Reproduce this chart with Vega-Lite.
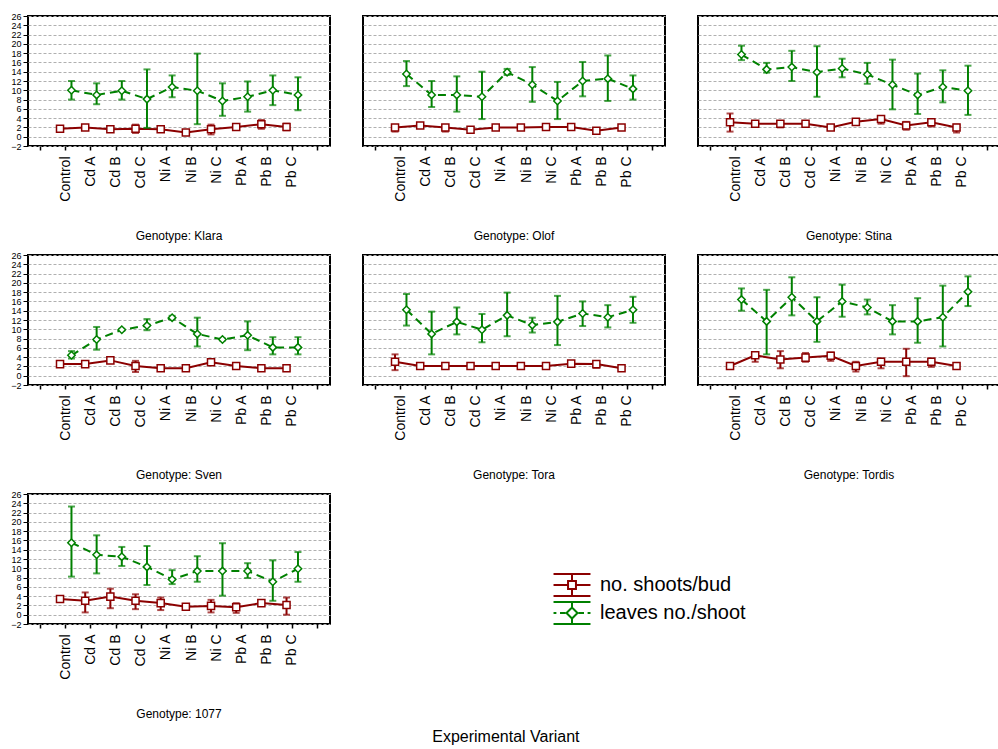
{
  "$schema": "https://vega.github.io/schema/vega-lite/v6.json",
  "padding": {"left": 10, "top": 12, "right": 0, "bottom": 0},
  "title": {"text": "Experimental Variant", "orient": "bottom", "anchor": "middle", "fontSize": 16, "fontWeight": "normal", "font": "Liberation Sans", "color": "#000", "offset": 8},
  "data": {"values": [
    {"g":"Klara","v":"Control","s":"S","m":1.7,"lo":1.5,"hi":1.9},
    {"g":"Klara","v":"Cd A","s":"S","m":2.0,"lo":1.6,"hi":2.2},
    {"g":"Klara","v":"Cd B","s":"S","m":1.6,"lo":1.2,"hi":1.9},
    {"g":"Klara","v":"Cd C","s":"S","m":1.7,"lo":0.8,"hi":2.6},
    {"g":"Klara","v":"Ni A","s":"S","m":1.6,"lo":1.2,"hi":1.8},
    {"g":"Klara","v":"Ni B","s":"S","m":0.9,"lo":0.7,"hi":1.1},
    {"g":"Klara","v":"Ni C","s":"S","m":1.6,"lo":0.5,"hi":2.6},
    {"g":"Klara","v":"Pb A","s":"S","m":2.1,"lo":1.8,"hi":2.3},
    {"g":"Klara","v":"Pb B","s":"S","m":2.7,"lo":1.7,"hi":3.6},
    {"g":"Klara","v":"Pb C","s":"S","m":2.1,"lo":1.4,"hi":2.8},
    {"g":"Klara","v":"Control","s":"L","m":10.0,"lo":8.0,"hi":12.0},
    {"g":"Klara","v":"Cd A","s":"L","m":9.0,"lo":7.0,"hi":11.5},
    {"g":"Klara","v":"Cd B","s":"L","m":9.9,"lo":8.0,"hi":12.0},
    {"g":"Klara","v":"Cd C","s":"L","m":8.1,"lo":1.9,"hi":14.5},
    {"g":"Klara","v":"Ni A","s":"L","m":10.7,"lo":8.5,"hi":13.2},
    {"g":"Klara","v":"Ni B","s":"L","m":9.9,"lo":2.7,"hi":17.9},
    {"g":"Klara","v":"Ni C","s":"L","m":7.7,"lo":4.5,"hi":11.5},
    {"g":"Klara","v":"Pb A","s":"L","m":8.6,"lo":5.4,"hi":11.9},
    {"g":"Klara","v":"Pb B","s":"L","m":10.0,"lo":6.8,"hi":13.2},
    {"g":"Klara","v":"Pb C","s":"L","m":9.0,"lo":5.7,"hi":12.8},
    {"g":"Olof","v":"Control","s":"S","m":2.0,"lo":1.1,"hi":2.3},
    {"g":"Olof","v":"Cd A","s":"S","m":2.4,"lo":2.0,"hi":2.7},
    {"g":"Olof","v":"Cd B","s":"S","m":2.0,"lo":1.1,"hi":2.4},
    {"g":"Olof","v":"Cd C","s":"S","m":1.5,"lo":1.0,"hi":1.8},
    {"g":"Olof","v":"Ni A","s":"S","m":2.0,"lo":1.8,"hi":2.2},
    {"g":"Olof","v":"Ni B","s":"S","m":2.0,"lo":1.8,"hi":2.2},
    {"g":"Olof","v":"Ni C","s":"S","m":2.1,"lo":1.9,"hi":2.3},
    {"g":"Olof","v":"Pb A","s":"S","m":2.1,"lo":1.8,"hi":2.3},
    {"g":"Olof","v":"Pb B","s":"S","m":1.3,"lo":1.0,"hi":1.5},
    {"g":"Olof","v":"Pb C","s":"S","m":2.0,"lo":1.7,"hi":2.2},
    {"g":"Olof","v":"Control","s":"L","m":13.5,"lo":10.9,"hi":16.3},
    {"g":"Olof","v":"Cd A","s":"L","m":9.0,"lo":6.4,"hi":12.0},
    {"g":"Olof","v":"Cd B","s":"L","m":9.0,"lo":5.4,"hi":13.0},
    {"g":"Olof","v":"Cd C","s":"L","m":8.6,"lo":3.8,"hi":14.0},
    {"g":"Olof","v":"Ni A","s":"L","m":13.9,"lo":13.3,"hi":14.6},
    {"g":"Olof","v":"Ni B","s":"L","m":11.2,"lo":7.5,"hi":15.0},
    {"g":"Olof","v":"Ni C","s":"L","m":7.7,"lo":3.8,"hi":11.8},
    {"g":"Olof","v":"Pb A","s":"L","m":12.0,"lo":8.7,"hi":16.1},
    {"g":"Olof","v":"Pb B","s":"L","m":12.5,"lo":7.7,"hi":17.5},
    {"g":"Olof","v":"Pb C","s":"L","m":10.3,"lo":8.0,"hi":13.2},
    {"g":"Stina","v":"Control","s":"S","m":3.1,"lo":1.1,"hi":5.0},
    {"g":"Stina","v":"Cd A","s":"S","m":2.8,"lo":2.5,"hi":3.1},
    {"g":"Stina","v":"Cd B","s":"S","m":2.8,"lo":2.0,"hi":3.2},
    {"g":"Stina","v":"Cd C","s":"S","m":2.8,"lo":2.2,"hi":3.2},
    {"g":"Stina","v":"Ni A","s":"S","m":2.0,"lo":1.5,"hi":2.5},
    {"g":"Stina","v":"Ni B","s":"S","m":3.2,"lo":2.6,"hi":3.6},
    {"g":"Stina","v":"Ni C","s":"S","m":3.8,"lo":2.8,"hi":4.3},
    {"g":"Stina","v":"Pb A","s":"S","m":2.4,"lo":1.5,"hi":3.2},
    {"g":"Stina","v":"Pb B","s":"S","m":3.1,"lo":2.2,"hi":3.8},
    {"g":"Stina","v":"Pb C","s":"S","m":2.0,"lo":0.9,"hi":2.6},
    {"g":"Stina","v":"Control","s":"L","m":17.7,"lo":16.5,"hi":19.6},
    {"g":"Stina","v":"Cd A","s":"L","m":14.5,"lo":13.8,"hi":15.9},
    {"g":"Stina","v":"Cd B","s":"L","m":15.0,"lo":12.0,"hi":18.5},
    {"g":"Stina","v":"Cd C","s":"L","m":13.9,"lo":8.6,"hi":19.5},
    {"g":"Stina","v":"Ni A","s":"L","m":14.7,"lo":12.8,"hi":16.8},
    {"g":"Stina","v":"Ni B","s":"L","m":13.4,"lo":11.4,"hi":15.9},
    {"g":"Stina","v":"Ni C","s":"L","m":11.2,"lo":5.9,"hi":16.6},
    {"g":"Stina","v":"Pb A","s":"L","m":9.0,"lo":4.9,"hi":13.6},
    {"g":"Stina","v":"Pb B","s":"L","m":10.7,"lo":7.4,"hi":14.3},
    {"g":"Stina","v":"Pb C","s":"L","m":9.9,"lo":4.7,"hi":15.3},
    {"g":"Sven","v":"Control","s":"S","m":2.5,"lo":2.1,"hi":2.8},
    {"g":"Sven","v":"Cd A","s":"S","m":2.5,"lo":2.0,"hi":2.9},
    {"g":"Sven","v":"Cd B","s":"S","m":3.3,"lo":3.1,"hi":3.5},
    {"g":"Sven","v":"Cd C","s":"S","m":2.1,"lo":0.8,"hi":3.2},
    {"g":"Sven","v":"Ni A","s":"S","m":1.6,"lo":1.1,"hi":2.0},
    {"g":"Sven","v":"Ni B","s":"S","m":1.6,"lo":1.2,"hi":2.0},
    {"g":"Sven","v":"Ni C","s":"S","m":2.9,"lo":2.3,"hi":3.3},
    {"g":"Sven","v":"Pb A","s":"S","m":2.1,"lo":1.9,"hi":2.3},
    {"g":"Sven","v":"Pb B","s":"S","m":1.6,"lo":1.1,"hi":2.0},
    {"g":"Sven","v":"Pb C","s":"S","m":1.6,"lo":1.0,"hi":1.9},
    {"g":"Sven","v":"Control","s":"L","m":4.4,"lo":3.7,"hi":5.3},
    {"g":"Sven","v":"Cd A","s":"L","m":7.8,"lo":5.6,"hi":10.5},
    {"g":"Sven","v":"Cd B","s":"L","m":9.9,"lo":9.7,"hi":10.1},
    {"g":"Sven","v":"Cd C","s":"L","m":10.8,"lo":9.8,"hi":12.2},
    {"g":"Sven","v":"Ni A","s":"L","m":12.5,"lo":12.1,"hi":12.9},
    {"g":"Sven","v":"Ni B","s":"L","m":9.0,"lo":6.3,"hi":12.5},
    {"g":"Sven","v":"Ni C","s":"L","m":7.8,"lo":7.6,"hi":8.0},
    {"g":"Sven","v":"Pb A","s":"L","m":8.7,"lo":5.5,"hi":11.7},
    {"g":"Sven","v":"Pb B","s":"L","m":6.1,"lo":4.6,"hi":8.3},
    {"g":"Sven","v":"Pb C","s":"L","m":6.1,"lo":4.6,"hi":8.3},
    {"g":"Tora","v":"Control","s":"S","m":3.0,"lo":1.2,"hi":4.6},
    {"g":"Tora","v":"Cd A","s":"S","m":2.1,"lo":1.8,"hi":2.3},
    {"g":"Tora","v":"Cd B","s":"S","m":2.1,"lo":1.8,"hi":2.3},
    {"g":"Tora","v":"Cd C","s":"S","m":2.1,"lo":1.7,"hi":2.6},
    {"g":"Tora","v":"Ni A","s":"S","m":2.1,"lo":1.9,"hi":2.3},
    {"g":"Tora","v":"Ni B","s":"S","m":2.1,"lo":1.9,"hi":2.3},
    {"g":"Tora","v":"Ni C","s":"S","m":2.1,"lo":1.8,"hi":2.5},
    {"g":"Tora","v":"Pb A","s":"S","m":2.6,"lo":1.9,"hi":3.0},
    {"g":"Tora","v":"Pb B","s":"S","m":2.5,"lo":1.7,"hi":3.0},
    {"g":"Tora","v":"Pb C","s":"S","m":1.6,"lo":1.3,"hi":1.8},
    {"g":"Tora","v":"Control","s":"L","m":14.2,"lo":10.8,"hi":17.6},
    {"g":"Tora","v":"Cd A","s":"L","m":9.0,"lo":4.6,"hi":13.8},
    {"g":"Tora","v":"Cd B","s":"L","m":11.6,"lo":8.9,"hi":14.7},
    {"g":"Tora","v":"Cd C","s":"L","m":9.9,"lo":7.2,"hi":13.3},
    {"g":"Tora","v":"Ni A","s":"L","m":13.0,"lo":8.5,"hi":17.9},
    {"g":"Tora","v":"Ni B","s":"L","m":10.9,"lo":9.3,"hi":12.5},
    {"g":"Tora","v":"Ni C","s":"L","m":11.6,"lo":6.6,"hi":17.2},
    {"g":"Tora","v":"Pb A","s":"L","m":13.4,"lo":10.7,"hi":16.0},
    {"g":"Tora","v":"Pb B","s":"L","m":12.6,"lo":10.4,"hi":15.2},
    {"g":"Tora","v":"Pb C","s":"L","m":14.2,"lo":11.4,"hi":17.0},
    {"g":"Tordis","v":"Control","s":"S","m":2.1,"lo":1.8,"hi":2.4},
    {"g":"Tordis","v":"Cd A","s":"S","m":4.4,"lo":3.0,"hi":5.1},
    {"g":"Tordis","v":"Cd B","s":"S","m":3.5,"lo":1.6,"hi":5.3},
    {"g":"Tordis","v":"Cd C","s":"S","m":3.9,"lo":3.0,"hi":4.9},
    {"g":"Tordis","v":"Ni A","s":"S","m":4.3,"lo":3.2,"hi":5.0},
    {"g":"Tordis","v":"Ni B","s":"S","m":2.1,"lo":0.9,"hi":3.0},
    {"g":"Tordis","v":"Ni C","s":"S","m":3.0,"lo":1.6,"hi":3.7},
    {"g":"Tordis","v":"Pb A","s":"S","m":3.0,"lo":-0.1,"hi":5.8},
    {"g":"Tordis","v":"Pb B","s":"S","m":3.0,"lo":1.9,"hi":3.7},
    {"g":"Tordis","v":"Pb C","s":"S","m":2.1,"lo":1.6,"hi":2.6},
    {"g":"Tordis","v":"Control","s":"L","m":16.4,"lo":14.0,"hi":18.8},
    {"g":"Tordis","v":"Cd A","s":"L","m":11.7,"lo":4.6,"hi":18.5},
    {"g":"Tordis","v":"Cd B","s":"L","m":16.9,"lo":13.0,"hi":21.2},
    {"g":"Tordis","v":"Cd C","s":"L","m":11.7,"lo":7.3,"hi":16.9},
    {"g":"Tordis","v":"Ni A","s":"L","m":16.0,"lo":12.7,"hi":19.6},
    {"g":"Tordis","v":"Ni B","s":"L","m":14.7,"lo":13.2,"hi":16.4},
    {"g":"Tordis","v":"Ni C","s":"L","m":11.7,"lo":8.9,"hi":15.2},
    {"g":"Tordis","v":"Pb A","s":"L","m":11.7,"lo":7.1,"hi":16.7},
    {"g":"Tordis","v":"Pb B","s":"L","m":12.6,"lo":6.3,"hi":19.4},
    {"g":"Tordis","v":"Pb C","s":"L","m":18.1,"lo":15.0,"hi":21.4},
    {"g":"1077","v":"Control","s":"S","m":3.4,"lo":3.2,"hi":3.6},
    {"g":"1077","v":"Cd A","s":"S","m":3.0,"lo":0.5,"hi":4.8},
    {"g":"1077","v":"Cd B","s":"S","m":3.9,"lo":1.4,"hi":5.6},
    {"g":"1077","v":"Cd C","s":"S","m":3.0,"lo":1.2,"hi":4.4},
    {"g":"1077","v":"Ni A","s":"S","m":2.5,"lo":1.0,"hi":3.7},
    {"g":"1077","v":"Ni B","s":"S","m":1.7,"lo":1.4,"hi":2.0},
    {"g":"1077","v":"Ni C","s":"S","m":1.9,"lo":0.5,"hi":3.2},
    {"g":"1077","v":"Pb A","s":"S","m":1.6,"lo":0.4,"hi":2.5},
    {"g":"1077","v":"Pb B","s":"S","m":2.5,"lo":2.0,"hi":2.8},
    {"g":"1077","v":"Pb C","s":"S","m":2.1,"lo":0.0,"hi":3.7},
    {"g":"1077","v":"Control","s":"L","m":15.5,"lo":8.2,"hi":23.3},
    {"g":"1077","v":"Cd A","s":"L","m":12.9,"lo":8.9,"hi":17.1},
    {"g":"1077","v":"Cd B","s":"L","m":12.5,"lo":10.5,"hi":14.6},
    {"g":"1077","v":"Cd C","s":"L","m":10.3,"lo":6.4,"hi":14.8},
    {"g":"1077","v":"Ni A","s":"L","m":7.6,"lo":6.6,"hi":9.6},
    {"g":"1077","v":"Ni B","s":"L","m":9.4,"lo":7.1,"hi":12.6},
    {"g":"1077","v":"Ni C","s":"L","m":9.4,"lo":4.1,"hi":15.4},
    {"g":"1077","v":"Pb A","s":"L","m":9.4,"lo":7.9,"hi":11.1},
    {"g":"1077","v":"Pb B","s":"L","m":7.1,"lo":3.0,"hi":11.7},
    {"g":"1077","v":"Pb C","s":"L","m":9.9,"lo":7.1,"hi":13.5}
  ]},
  "facet": {
    "field": "g", "type": "nominal",
    "sort": ["Klara", "Olof", "Stina", "Sven", "Tora", "Tordis", "1077"],
    "header": {"title": null, "labelOrient": "bottom", "labelExpr": "'Genotype: ' + datum.value", "labelFont": "Liberation Sans", "labelFontSize": 12, "labelColor": "#000", "labelPadding": 30}
  },
  "columns": 3,
  "spacing": {"row": 10, "column": 31},
  "resolve": {"axis": {"x": "independent"}},
  "spec": {
    "width": 302,
    "height": 130,
    "encoding": {
      "x": {"field": "v", "type": "nominal", "title": null,
        "scale": {"domain": [" ", "Control", "Cd A", "Cd B", "Cd C", "Ni A", "Ni B", "Ni C", "Pb A", "Pb B", "Pb C", "  "], "paddingInner": 0, "paddingOuter": 0},
        "axis": {"labelAngle": -90, "labelFontSize": 14, "labelColor": "#000", "labelPadding": 6, "tickSize": 4, "tickColor": "#000", "tickWidth": 1.5, "domain": false, "grid": false, "bandPosition": 0.5}},
      "xOffset": {"field": "s", "type": "nominal", "scale": {"domain": ["S", "L"], "paddingInner": 0, "paddingOuter": 0.1}}
    },
    "layer": [
      {
        "transform": [{"filter": "datum.s == 'S'"}],
        "layer": [
          {"mark": {"type": "line", "strokeWidth": 2, "color": "#8b0000"},
           "encoding": {"y": {"field": "m", "type": "quantitative",
               "scale": {"domain": [-2, 26], "nice": false, "zero": false},
               "axis": {"title": null, "values": [-2, 0, 2, 4, 6, 8, 10, 12, 14, 16, 18, 20, 22, 24, 26], "tickCount": 15, "labelOverlap": false, "labelFontSize": 9, "labelColor": "#000", "tickSize": 4, "tickColor": "#000", "domain": false, "grid": true, "gridDash": [3, 2], "gridColor": "#b0b0b0", "gridWidth": 1}}}},
          {"mark": {"type": "rule", "strokeWidth": 2, "color": "#8b0000"},
           "encoding": {"y": {"field": "lo", "type": "quantitative"}, "y2": {"field": "hi"}}},
          {"mark": {"type": "tick", "size": 7, "thickness": 2, "color": "#8b0000"},
           "encoding": {"y": {"field": "lo", "type": "quantitative"}}},
          {"mark": {"type": "tick", "size": 7, "thickness": 2, "color": "#8b0000"},
           "encoding": {"y": {"field": "hi", "type": "quantitative"}}},
          {"mark": {"type": "point", "shape": "square", "filled": false, "fill": "white", "opacity": 1, "strokeWidth": 1.5, "size": 50},
           "encoding": {"y": {"field": "m", "type": "quantitative"},
             "stroke": {"field": "s", "type": "nominal", "scale": {"domain": ["S"], "range": ["#8b0000"]},
               "legend": {"title": null, "orient": "none", "legendX": 531, "legendY": 556, "labelFontSize": 20, "labelColor": "#000", "labelOffset": 15,
                 "labelExpr": "'no. shoots/bud'", "symbolSize": 576, "symbolStrokeWidth": 2, "symbolFillColor": "white", "symbolOpacity": 1,
                 "symbolType": "M-1.54,-0.92H1.54M-1.54,0.92H1.54M0,-0.92V-0.33M0,0.33V0.92M-1.54,0H-0.33M0.33,0H1.54M-0.33,-0.33H0.33V0.33H-0.33Z"}}}}
        ]
      },
      {
        "transform": [{"filter": "datum.s == 'L'"}],
        "layer": [
          {"mark": {"type": "line", "strokeWidth": 2, "strokeDash": [8, 5], "color": "#008000"},
           "encoding": {"y": {"field": "m", "type": "quantitative"}}},
          {"mark": {"type": "rule", "strokeWidth": 2, "color": "#008000"},
           "encoding": {"y": {"field": "lo", "type": "quantitative"}, "y2": {"field": "hi"}}},
          {"mark": {"type": "tick", "size": 7, "thickness": 2, "color": "#008000"},
           "encoding": {"y": {"field": "lo", "type": "quantitative"}}},
          {"mark": {"type": "tick", "size": 7, "thickness": 2, "color": "#008000"},
           "encoding": {"y": {"field": "hi", "type": "quantitative"}}},
          {"mark": {"type": "point", "shape": "diamond", "filled": false, "fill": "white", "opacity": 1, "strokeWidth": 1.5, "size": 55},
           "encoding": {"y": {"field": "m", "type": "quantitative"},
             "color": {"field": "s", "type": "nominal", "scale": {"domain": ["L"], "range": ["#008000"]},
               "legend": {"title": null, "orient": "none", "legendX": 531, "legendY": 584, "labelFontSize": 20, "labelColor": "#000", "labelOffset": 15,
                 "labelExpr": "'leaves no./shoot'", "symbolSize": 576, "symbolStrokeWidth": 2, "symbolFillColor": "white", "symbolOpacity": 1,
                 "symbolType": "M-1.54,-0.92H1.54M-1.54,0.92H1.54M0,-0.92V-0.46M0,0.46V0.92M-1.54,0H-1.3M-1.0,0H-0.55M0.55,0H1.0M1.3,0H1.54M0,-0.46L0.46,0L0,0.46L-0.46,0Z"}}}}
        ]
      }
    ]
  },
  "config": {
    "font": "Liberation Sans",
    "view": {"stroke": "#000", "strokeWidth": 2},
    "background": "white"
  }
}
